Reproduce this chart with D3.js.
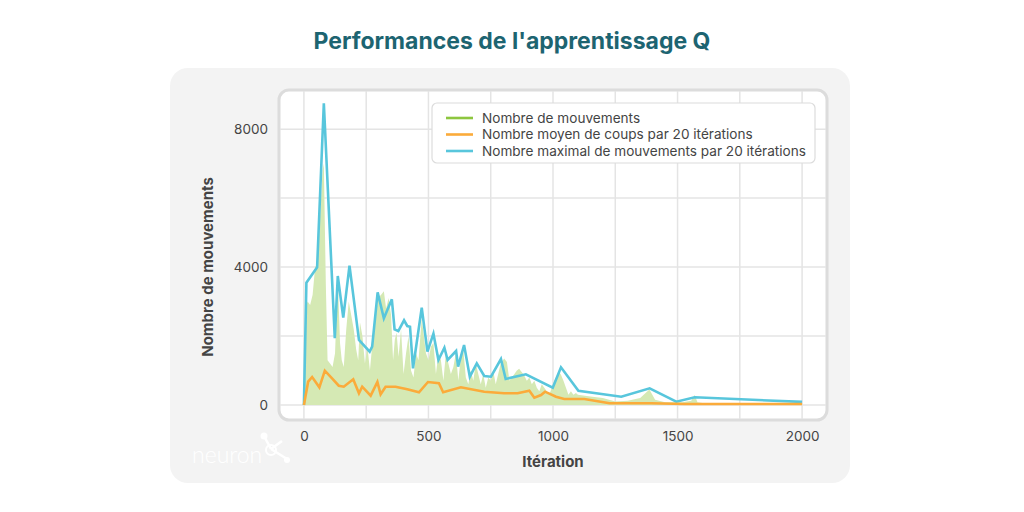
<!DOCTYPE html>
<html><head><meta charset="utf-8">
<script src="https://cdn.jsdelivr.net/npm/d3@7"></script>
<style>body{margin:0;background:#fff;}svg{display:block;font-family:"Lato","Inter",sans-serif;}</style>
</head><body><svg id="c" width="1024" height="512"></svg>
<script>
const title = "Performances de l'apprentissage Q";
const xTicks = [0, 500, 1000, 1500, 2000];
const yTicks = [0, 4000, 8000];
const xGrid = [0,250,500,750,1000,1250,1500,1750,2000];
const yGrid = [0,2000,4000,6000,8000];
const seriesNames = ["Nombre de mouvements","Nombre moyen de coups par 20 itérations","Nombre maximal de mouvements par 20 itérations"];
// green: raw moves
const movesX = [0,5,15,25,35,45,55,65,75,80,88,95,105,115,125,136,145,152,160,170,180,190,200,210,218,225,235,245,255,265,275,285,298,310,321,330,340,350,358,365,372,380,390,400,410,420,430,440,450,460,473,480,490,500,510,520,530,540,550,560,570,580,590,600,610,620,630,640,650,660,670,680,690,700,710,720,730,740,750,760,770,780,790,804,815,825,835,845,855,864,875,885,895,905,915,925,935,945,955,965,975,985,995,1005,1015,1025,1032,1042,1052,1062,1072,1082,1092,1100,1150,1200,1250,1300,1350,1387,1410,1450,1520,1555,1569,1580,1600,2000];
const movesY = [0,2800,3000,2900,3200,4000,4100,5500,6800,7000,3500,1300,1200,1100,1500,3700,1800,1300,1100,2200,3000,2600,2200,1600,1300,2400,2000,1200,1700,1000,1800,2400,3100,3200,3300,2800,3100,2600,1300,1900,2100,1400,2200,900,1500,2000,1000,800,1500,1300,2500,2100,1500,1300,1700,1800,900,1500,1300,700,1500,1200,900,1100,1500,700,1400,1600,800,600,1000,700,1200,900,600,900,500,800,700,1000,600,900,1200,1350,1250,700,800,900,1000,1050,950,850,700,800,600,700,500,400,600,500,400,300,500,700,850,950,880,700,500,300,400,300,350,300,250,200,100,120,200,450,150,80,80,120,290,80,60,60];
// orange: mean per 20 iterations
const meanX = [0,17,33,62,84,113,140,160,198,221,234,268,295,308,328,368,415,462,498,542,559,630,724,804,858,905,925,952,968,1012,1045,1126,1227,1394,1528,2000];
const meanY = [0,676,812,513,995,774,560,531,745,339,531,270,667,310,531,531,455,368,667,629,368,513,386,339,339,415,212,290,386,241,174,174,49,49,29,29];
// blue: max per 20 iterations
const maxX = [0,10,53,80,124,136,158,183,221,264,274,296,321,353,364,379,402,415,426,438,473,496,520,540,564,577,611,619,643,666,694,724,751,791,810,891,999,1032,1102,1274,1388,1495,1569,2000];
const maxY = [0,3547,3993,8749,1934,3741,2532,4040,1885,1546,1691,3268,2514,3065,2195,2146,2456,2291,2271,1064,2822,1546,2068,1305,1662,1305,1566,1111,1740,821,1209,841,821,1334,754,890,502,1093,415,241,484,96,223,90];

const F = "Inter, Lato, sans-serif";
const svg = d3.select("#c");
// outer panel
svg.append("rect").attr("x",170).attr("y",68).attr("width",680).attr("height",415).attr("rx",18).attr("fill","#f3f3f3");
svg.append("text").attr("x",512).attr("y",49).attr("text-anchor","middle").attr("font-size",23).attr("font-weight",700)
  .attr("fill","#1d6471").attr("font-family",F).text(title);

const x = d3.scaleLinear().domain([-100,2100]).range([279,827]);
const y = d3.scaleLinear().domain([-435,9135]).range([420,90]);

// plot box
svg.append("rect").attr("x",279).attr("y",90).attr("width",548).attr("height",330).attr("rx",10)
  .attr("fill","#fff").attr("stroke","#dcdcdc").attr("stroke-width",3);
svg.append("clipPath").attr("id","pc").append("rect").attr("x",280).attr("y",91).attr("width",546).attr("height",328).attr("rx",9);
const g = svg.append("g").attr("clip-path","url(#pc)");
g.selectAll(".vg").data(xGrid).join("line").attr("x1",d=>x(d)).attr("x2",d=>x(d)).attr("y1",90).attr("y2",420)
  .attr("stroke","#e4e4e4").attr("stroke-width",1.5);
g.selectAll(".hg").data(yGrid).join("line").attr("y1",d=>y(d)).attr("y2",d=>y(d)).attr("x1",279).attr("x2",827)
  .attr("stroke","#e4e4e4").attr("stroke-width",1.5);

const moves = movesX.map((v,i)=>[v,movesY[i]]);
g.append("path").datum(moves).attr("fill","#d5e9b4")
  .attr("d",d3.area().x(d=>x(d[0])).y0(y(0)).y1(d=>y(d[1])));
const mean = meanX.map((v,i)=>[v,meanY[i]]);
const mx = maxX.map((v,i)=>[v,maxY[i]]);
const line = d3.line().x(d=>x(d[0])).y(d=>y(d[1]));
g.append("path").datum(mx).attr("fill","none").attr("stroke","#58c6dc").attr("stroke-width",2.6).attr("d",line);
g.append("path").datum(mean).attr("fill","none").attr("stroke","#fbab3a").attr("stroke-width",2.6).attr("d",line);

// axes
const xa = svg.append("g").attr("transform","translate(0,420)").call(d3.axisBottom(x).tickValues(xTicks).tickSize(0).tickPadding(11).tickFormat(d3.format("d")));
xa.select(".domain").remove();
xa.selectAll("text").attr("font-size",13.5).attr("fill","#444").attr("font-family",F);
const ya = svg.append("g").attr("transform","translate(279,0)").call(d3.axisLeft(y).tickValues(yTicks).tickSize(0).tickPadding(11).tickFormat(d3.format("d")));
ya.select(".domain").remove();
ya.selectAll("text").attr("font-size",13.5).attr("fill","#444").attr("font-family",F);

svg.append("text").attr("x",553).attr("y",467).attr("text-anchor","middle").attr("font-size",15).attr("font-weight",700).attr("fill","#444").attr("font-family",F).text("Itération");
svg.append("text").attr("transform","translate(213,267) rotate(-90)").attr("text-anchor","middle").attr("font-size",15).attr("font-weight",700).attr("fill","#444").attr("font-family",F).text("Nombre de mouvements");

// legend
const lg = svg.append("g");
lg.append("rect").attr("x",432).attr("y",103).attr("width",383).attr("height",60).attr("rx",5).attr("fill","#fff").attr("stroke","#dcdcdc").attr("stroke-width",1.2);
const lc = ["#8dc63f","#fbab3a","#58c6dc"];
seriesNames.forEach((n,i)=>{
  const yy = 118 + i*16.5;
  lg.append("line").attr("x1",446).attr("x2",473).attr("y1",yy).attr("y2",yy).attr("stroke",lc[i]).attr("stroke-width",2.6);
  lg.append("text").attr("x",482).attr("y",yy+4.8).attr("font-size",13.6).attr("fill","#444").attr("font-family",F).text(n);
});

// logo
const lo = svg.append("g");
lo.append("text").attr("x",192).attr("y",463).attr("font-size",23).attr("font-weight",300).attr("fill","#fff").attr("font-family","Lato, sans-serif").text("neuron");
lo.append("line").attr("x1",271).attr("y1",449).attr("x2",264).attr("y2",436).attr("stroke","#fff").attr("stroke-width",2.5);
lo.append("line").attr("x1",271).attr("y1",449).attr("x2",287).attr("y2",459).attr("stroke","#fff").attr("stroke-width",2.5);
lo.append("line").attr("x1",271).attr("y1",449).attr("x2",282).attr("y2",441).attr("stroke","#fff").attr("stroke-width",2.5);
lo.append("circle").attr("cx",264).attr("cy",436).attr("r",3.5).attr("fill","#fff");
lo.append("circle").attr("cx",287).attr("cy",460).attr("r",3).attr("fill","#fff");
lo.append("circle").attr("cx",271).attr("cy",450).attr("r",5).attr("fill","none").attr("stroke","#fff").attr("stroke-width",2);
</script></body></html>
